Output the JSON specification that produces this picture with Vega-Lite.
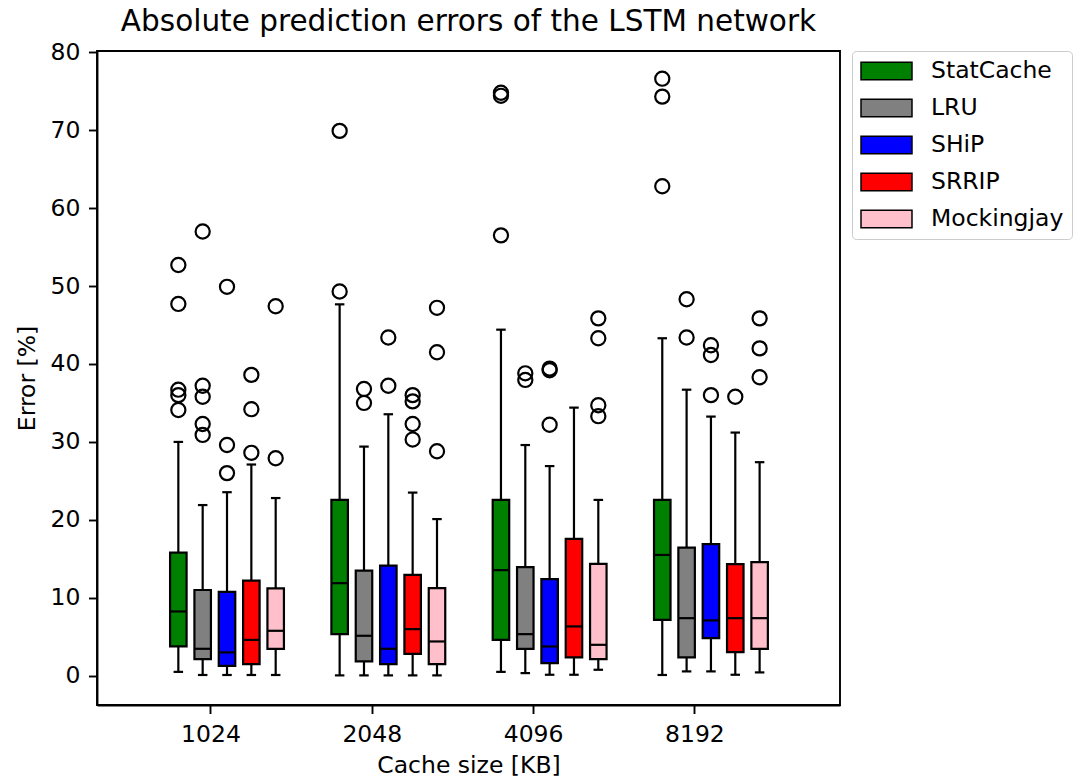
{
  "$schema": "https://vega.github.io/schema/vega-lite/v6.json",
  "width": 743,
  "height": 654,
  "autosize": {"type": "none"},
  "padding": {"left": 97, "top": 51, "right": 233, "bottom": 77},
  "background": "white",
  "title": {"text": "Absolute prediction errors of the LSTM network", "font": "DejaVu Sans", "fontSize": 29.5, "fontWeight": "normal", "color": "black", "anchor": "middle", "offset": 3},
  "config": {
    "font": "DejaVu Sans",
    "view": {"stroke": "black", "strokeWidth": 1.9},
    "axis": {
      "grid": false,
      "domainColor": "black",
      "domainWidth": 1.9,
      "tickColor": "black",
      "tickWidth": 1.9,
      "tickSize": 8.5,
      "labelFont": "DejaVu Sans",
      "labelFontSize": 23.5,
      "labelColor": "black",
      "labelPadding": 8.5,
      "titleFont": "DejaVu Sans",
      "titleFontSize": 23.5,
      "titleFontWeight": "normal",
      "titleColor": "black"
    },
    "legend": {
      "symbolStrokeColor": "black",
      "symbolStrokeWidth": 1.5,
      "symbolOpacity": 1,
      "labelFont": "DejaVu Sans",
      "labelFontSize": 23.5,
      "labelColor": "black",
      "labelOffset": 18,
      "rowPadding": 13,
      "padding": 8,
      "strokeColor": "#cccccc",
      "fillColor": "white",
      "cornerRadius": 4
    }
  },
  "datasets": {
    "boxes": [
      {"size": "1024", "policy": "StatCache", "lo": 0.5, "q1": 3.76, "med": 8.25, "q3": 15.8, "hi": 30.0},
      {"size": "1024", "policy": "LRU", "lo": 0.1, "q1": 2.13, "med": 3.46, "q3": 11.0, "hi": 21.9},
      {"size": "1024", "policy": "SHiP", "lo": 0.1, "q1": 1.28, "med": 3.0, "q3": 10.77, "hi": 23.55},
      {"size": "1024", "policy": "SRRIP", "lo": 0.1, "q1": 1.5, "med": 4.6, "q3": 12.2, "hi": 27.1},
      {"size": "1024", "policy": "Mockingjay", "lo": 0.1, "q1": 3.46, "med": 5.77, "q3": 11.2, "hi": 22.8},
      {"size": "2048", "policy": "StatCache", "lo": 0.05, "q1": 5.34, "med": 11.88, "q3": 22.56, "hi": 47.65},
      {"size": "2048", "policy": "LRU", "lo": 0.05, "q1": 1.84, "med": 5.13, "q3": 13.5, "hi": 29.4},
      {"size": "2048", "policy": "SHiP", "lo": 0.05, "q1": 1.5, "med": 3.46, "q3": 14.14, "hi": 33.55},
      {"size": "2048", "policy": "SRRIP", "lo": 0.05, "q1": 2.82, "med": 5.98, "q3": 12.95, "hi": 23.5},
      {"size": "2048", "policy": "Mockingjay", "lo": 0.05, "q1": 1.5, "med": 4.4, "q3": 11.24, "hi": 20.1},
      {"size": "4096", "policy": "StatCache", "lo": 0.5, "q1": 4.6, "med": 13.55, "q3": 22.56, "hi": 44.4},
      {"size": "4096", "policy": "LRU", "lo": 0.34, "q1": 3.46, "med": 5.34, "q3": 13.93, "hi": 29.6},
      {"size": "4096", "policy": "SHiP", "lo": 0.13, "q1": 1.62, "med": 3.76, "q3": 12.39, "hi": 26.9},
      {"size": "4096", "policy": "SRRIP", "lo": 0.13, "q1": 2.35, "med": 6.33, "q3": 17.56, "hi": 34.4},
      {"size": "4096", "policy": "Mockingjay", "lo": 0.77, "q1": 2.13, "med": 3.97, "q3": 14.36, "hi": 22.56},
      {"size": "8192", "policy": "StatCache", "lo": 0.1, "q1": 7.18, "med": 15.5, "q3": 22.56, "hi": 43.3},
      {"size": "8192", "policy": "LRU", "lo": 0.56, "q1": 2.35, "med": 7.39, "q3": 16.45, "hi": 36.7},
      {"size": "8192", "policy": "SHiP", "lo": 0.56, "q1": 4.83, "med": 7.1, "q3": 16.9, "hi": 33.25},
      {"size": "8192", "policy": "SRRIP", "lo": 0.13, "q1": 3.04, "med": 7.39, "q3": 14.32, "hi": 31.2},
      {"size": "8192", "policy": "Mockingjay", "lo": 0.43, "q1": 3.46, "med": 7.39, "q3": 14.57, "hi": 27.4}
    ],
    "outliers": [
      {"size": "1024", "policy": "StatCache", "err": 52.7},
      {"size": "1024", "policy": "StatCache", "err": 47.7},
      {"size": "1024", "policy": "StatCache", "err": 36.7},
      {"size": "1024", "policy": "StatCache", "err": 36.0},
      {"size": "1024", "policy": "StatCache", "err": 34.1},
      {"size": "1024", "policy": "LRU", "err": 57.0},
      {"size": "1024", "policy": "LRU", "err": 37.2},
      {"size": "1024", "policy": "LRU", "err": 35.8},
      {"size": "1024", "policy": "LRU", "err": 32.3},
      {"size": "1024", "policy": "LRU", "err": 30.9},
      {"size": "1024", "policy": "SHiP", "err": 49.9},
      {"size": "1024", "policy": "SHiP", "err": 29.6},
      {"size": "1024", "policy": "SHiP", "err": 26.0},
      {"size": "1024", "policy": "SRRIP", "err": 38.6},
      {"size": "1024", "policy": "SRRIP", "err": 34.2},
      {"size": "1024", "policy": "SRRIP", "err": 28.6},
      {"size": "1024", "policy": "Mockingjay", "err": 47.4},
      {"size": "1024", "policy": "Mockingjay", "err": 27.9},
      {"size": "2048", "policy": "StatCache", "err": 69.9},
      {"size": "2048", "policy": "StatCache", "err": 49.3},
      {"size": "2048", "policy": "LRU", "err": 36.8},
      {"size": "2048", "policy": "LRU", "err": 35.0},
      {"size": "2048", "policy": "SHiP", "err": 43.4},
      {"size": "2048", "policy": "SHiP", "err": 37.2},
      {"size": "2048", "policy": "SRRIP", "err": 36.0},
      {"size": "2048", "policy": "SRRIP", "err": 35.2},
      {"size": "2048", "policy": "SRRIP", "err": 32.3},
      {"size": "2048", "policy": "SRRIP", "err": 30.3},
      {"size": "2048", "policy": "Mockingjay", "err": 47.2},
      {"size": "2048", "policy": "Mockingjay", "err": 41.5},
      {"size": "2048", "policy": "Mockingjay", "err": 28.8},
      {"size": "4096", "policy": "StatCache", "err": 74.8},
      {"size": "4096", "policy": "StatCache", "err": 74.4},
      {"size": "4096", "policy": "StatCache", "err": 56.5},
      {"size": "4096", "policy": "LRU", "err": 38.8},
      {"size": "4096", "policy": "LRU", "err": 37.95},
      {"size": "4096", "policy": "SHiP", "err": 39.4},
      {"size": "4096", "policy": "SHiP", "err": 39.2},
      {"size": "4096", "policy": "SHiP", "err": 32.2},
      {"size": "4096", "policy": "Mockingjay", "err": 45.85},
      {"size": "4096", "policy": "Mockingjay", "err": 43.3},
      {"size": "4096", "policy": "Mockingjay", "err": 34.7},
      {"size": "4096", "policy": "Mockingjay", "err": 33.3},
      {"size": "8192", "policy": "StatCache", "err": 76.6},
      {"size": "8192", "policy": "StatCache", "err": 74.3},
      {"size": "8192", "policy": "StatCache", "err": 62.8},
      {"size": "8192", "policy": "LRU", "err": 48.3},
      {"size": "8192", "policy": "LRU", "err": 43.4},
      {"size": "8192", "policy": "SHiP", "err": 42.4},
      {"size": "8192", "policy": "SHiP", "err": 41.15},
      {"size": "8192", "policy": "SHiP", "err": 36.0},
      {"size": "8192", "policy": "SRRIP", "err": 35.8},
      {"size": "8192", "policy": "Mockingjay", "err": 45.85},
      {"size": "8192", "policy": "Mockingjay", "err": 42.0},
      {"size": "8192", "policy": "Mockingjay", "err": 38.3}
    ]
  },
  "encoding": {
    "x": {
      "field": "size",
      "type": "nominal",
      "scale": {"domain": ["1024", "2048", "4096", "8192"], "paddingInner": 0, "paddingOuter": 0.303, "align": 0.341},
      "axis": {"title": "Cache size [KB]", "labelAngle": 0, "titlePadding": 8}
    },
    "xOffset": {
      "field": "policy",
      "type": "nominal",
      "scale": {"domain": ["StatCache", "LRU", "SHiP", "SRRIP", "Mockingjay"], "range": [39.75, 153.6], "paddingInner": 0.322, "paddingOuter": 0}
    }
  },
  "layer": [
    {
      "data": {"name": "boxes"},
      "mark": {"type": "rule", "color": "black", "strokeWidth": 2.2},
      "encoding": {
        "y": {"field": "lo", "type": "quantitative", "title": "Error [%]", "scale": {"domain": [-3.75, 80.15], "nice": false, "zero": false}, "axis": {"values": [0, 10, 20, 30, 40, 50, 60, 70, 80], "titlePadding": 11}},
        "y2": {"field": "hi"}
      }
    },
    {
      "data": {"name": "boxes"},
      "mark": {"type": "tick", "color": "black", "size": 9.5, "thickness": 2.2, "opacity": 1},
      "encoding": {
        "y": {"field": "lo", "type": "quantitative", "title": "Error [%]"}
      }
    },
    {
      "data": {"name": "boxes"},
      "mark": {"type": "tick", "color": "black", "size": 9.5, "thickness": 2.2, "opacity": 1},
      "encoding": {
        "y": {"field": "hi", "type": "quantitative", "title": "Error [%]"}
      }
    },
    {
      "data": {"name": "boxes"},
      "mark": {"type": "bar", "stroke": "black", "strokeWidth": 2.2, "opacity": 1},
      "encoding": {
        "y": {"field": "q1", "type": "quantitative", "title": "Error [%]"},
        "y2": {"field": "q3"},
        "fill": {
          "field": "policy",
          "type": "nominal",
          "scale": {"domain": ["StatCache", "LRU", "SHiP", "SRRIP", "Mockingjay"], "range": ["#008000", "#808080", "#0000ff", "#ff0000", "#ffc0cb"]},
          "legend": {
            "title": null,
            "orient": "none",
            "legendX": 755,
            "legendY": 0,
            "symbolType": "M-1,-0.34H1V0.34H-1Z",
            "symbolSize": 2600,
            "clipHeight": 24
          }
        }
      }
    },
    {
      "data": {"name": "boxes"},
      "mark": {"type": "tick", "color": "black", "size": 17, "thickness": 2.2, "opacity": 1},
      "encoding": {
        "y": {"field": "med", "type": "quantitative", "title": "Error [%]"}
      }
    },
    {
      "data": {"name": "outliers"},
      "mark": {"type": "point", "shape": "circle", "filled": false, "stroke": "black", "strokeWidth": 2.2, "size": 200, "opacity": 1},
      "encoding": {
        "y": {"field": "err", "type": "quantitative", "title": "Error [%]"}
      }
    }
  ]
}
